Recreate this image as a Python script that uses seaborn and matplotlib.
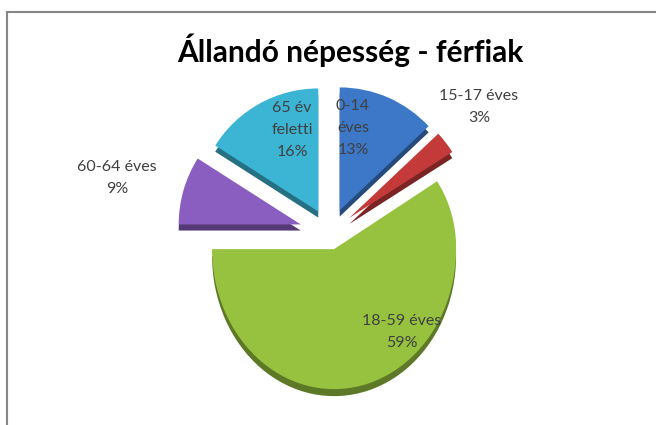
import numpy as np
import matplotlib
matplotlib.use("Agg")
import matplotlib.pyplot as plt
import seaborn as sns
from matplotlib.patches import Rectangle
import matplotlib.colors as mcolors

# ---- data ----
categories = ["0-14 éves", "15-17 éves", "18-59 éves", "60-64 éves", "65 év feletti"]
values = [13, 3, 59, 9, 16]
label_texts = ["0-14\néves\n13%", "15-17 éves\n3%", "18-59 éves\n59%",
               "60-64 éves\n9%", "65 év\nfeletti\n16%"]
title = "Állandó népesség - férfiak"

# ---- style ----
colors = ["#3D78C8", "#C43A3A", "#96C23F", "#8A5EC0", "#3CB4D4"]
explode = [0.2, 0.2, 0.12, 0.25, 0.2]

sns.set_theme(style="white")
plt.rcParams['font.family'] = ['Lato', 'DejaVu Sans']

W, H = 656, 425
fig = plt.figure(figsize=(W / 100, H / 100), dpi=100)
ax = fig.add_axes([0, 0, 1, 1])

cx, cy = 330, 233            # pie centre in pixels (from top-left)
rx, ry_top, ry_bot = 122, 123, 140
depth = 0.05


def fwd(y):
    y = np.asarray(y, float)
    return np.where(y >= 0, y * ry_top, y * ry_bot)


def inv(v):
    v = np.asarray(v, float)
    return np.where(v >= 0, v / ry_top, v / ry_bot)


def darken(c, f=0.62):
    r, g, b = mcolors.to_rgb(c)
    return (r * f, g * f, b * f)


dark = [darken(c) for c in colors]
ax.pie(values, colors=dark, explode=explode, startangle=90, counterclock=False,
       center=(0, -depth), wedgeprops=dict(linewidth=0))
ax.pie(values, colors=colors, explode=explode, startangle=90, counterclock=False,
       wedgeprops=dict(linewidth=0))
ax.set_aspect('auto')
ax.set_yscale('function', functions=(fwd, inv))
ax.set_xlim(-cx / rx, (W - cx) / rx)
ax.set_ylim(-(H - cy) / ry_bot, cy / ry_top)
ax.axis('off')

# labels (pixel positions of text centres)
label_pos = [(353, 128), (479, 107), (402, 332), (117, 178), (292, 130)]
for txt, (px, py) in zip(label_texts, label_pos):
    fig.text(px / W, 1 - py / H, txt, ha='center', va='center',
             fontsize=11.5, color='#404040', linespacing=1.75)

fig.text(350 / W, 1 - 50 / H, title, ha='center', va='center',
         fontsize=21.5, fontweight='bold', color='black')

# chart border
fig.patches.append(Rectangle((7, -20), W + 40, H - 12 + 20, transform=None,
                             fill=False, edgecolor='#868686', linewidth=1.5))

fig.savefig("out.png", dpi=100)
